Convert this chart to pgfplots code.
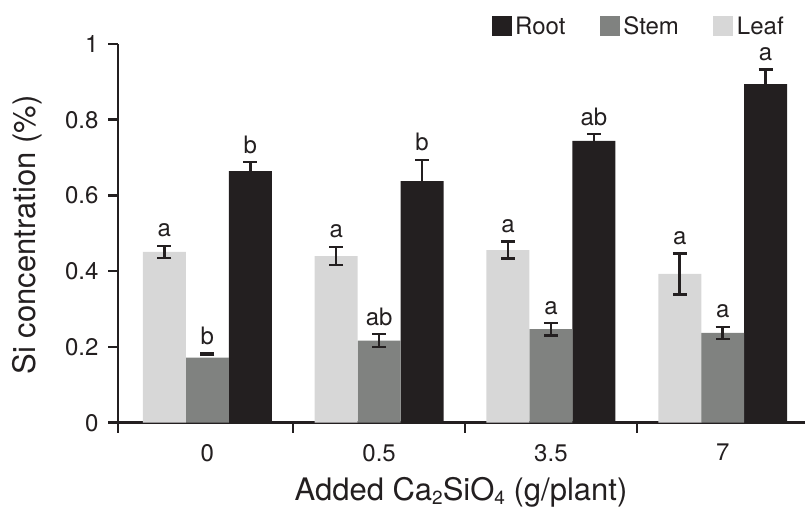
\documentclass[border=0pt]{standalone}
\usepackage{pgfplots}
\pgfplotsset{compat=1.18}
\usepackage{fontspec}
\setmainfont{TeX Gyre Heros}
\definecolor{rootc}{HTML}{231F20}
\definecolor{stemc}{HTML}{808280}
\definecolor{leafc}{HTML}{D7D7D7}
\definecolor{txt}{HTML}{231F20}
\newcommand{\sub}[1]{\raisebox{-4pt}{\fontsize{19}{19}\selectfont #1}}
\pgfplotsset{
  mylegend/.style={legend image code/.code={\path[##1] (0pt,-10pt) rectangle (20pt,10pt);}},
  myerr/.style={error bars/.cd, y explicit,
    error bar style={draw=txt, line width=2.6pt},
    error mark options={draw=txt, line width=2.6pt, mark size=7pt, rotate=90}},
}
\begin{document}
\begin{tikzpicture}
\path[use as bounding box] (0,0) rectangle (805pt,510pt);
\begin{axis}[
  at={(118pt,87.3pt)}, anchor=south west,
  scale only axis, width=687pt, height=378.7pt,
  xmin=-0.52, xmax=3.479, ymin=0, ymax=1,
  clip=false,
  axis x line*=bottom, axis y line*=left,
  axis line style={line width=2.5pt, draw=txt},
  tick style={line width=2.5pt, draw=txt},
  tick align=outside, major tick length=10pt,
  xtick={-0.52,0.5,1.5,2.5}, xticklabels={},
  extra x ticks={0,1,2,3}, extra x tick labels={0,0.5,3.5,7},
  extra x tick style={tick style={draw=none}, xticklabel style={yshift=-8pt}},
  ytick={0,0.2,0.4,0.6,0.8,1},
  yticklabels={0,0.2,0.4,0.6,0.8,1},
  tick label style={font=\fontsize{24}{26}\selectfont, text=txt},
  yticklabel style={xshift=-6pt},
  /pgf/number format/assume math mode=true,
  xlabel={Added Ca\sub{2}SiO\sub{4} (g/plant)},
  xlabel style={at={(axis description cs:0.4993,-0.205)}, anchor=base, font=\fontsize{31}{33}\selectfont, text=txt},
  ylabel={Si concentration (\%)},
  ylabel style={at={(axis description cs:-0.1325,0.496)}, anchor=center, font=\fontsize{31}{33}\selectfont, text=txt},
  legend style={draw=none, fill=none, at={(axis description cs:0.5437,1.082)}, anchor=north west,
    legend columns=3, font=\fontsize{24}{26}\selectfont, text=txt, inner sep=0pt,
    nodes={inner sep=3.5pt},
    /tikz/every even column/.append style={column sep=31pt}},
]
\addplot[ybar, bar width=43pt, bar shift=0pt, fill=rootc, draw=none, mylegend,
  myerr, y dir=plus] table[x=x, y=y, y error=e] {
x y e
0.25 0.664 0.024
1.25 0.638 0.056
2.25 0.744 0.018
3.25 0.894 0.039
};
\addlegendentry{Root}
\addplot[ybar, bar width=43pt, bar shift=0pt, fill=stemc, draw=none, mylegend] table[x=x, y=y] {
x y
0 0.172
1 0.217
2 0.247
3 0.237
};
\addlegendentry{Stem}
\addplot[ybar, bar width=43pt, bar shift=0pt, fill=leafc, draw=none, mylegend,
  myerr, y dir=both] table[x=x, y=y, y error=e] {
x y e
-0.25 0.451 0.016
0.75 0.440 0.024
1.75 0.456 0.023
2.75 0.393 0.054
};
\addlegendentry{Leaf}
% stem error bars
\addplot[forget plot, draw=none, mark=none, myerr, y dir=both] table[x=x, y=y, y error=e] {
x y e
0 0.1815 0.0026
1 0.217 0.017
2 0.247 0.016
3 0.237 0.016
};
% significance letters
\addplot[forget plot, draw=none, mark=none, nodes near coords, point meta=explicit symbolic,
  nodes near coords style={anchor=base, yshift=9pt, font=\fontsize{24}{26}\selectfont, text=txt}]
  table[x=x, y=y, meta=l] {
x y l
-0.25 0.467 a
0 0.184 b
0.25 0.688 b
0.75 0.464 a
1 0.234 ab
1.25 0.694 b
1.75 0.479 a
2 0.263 a
2.25 0.762 ab
2.75 0.447 a
3 0.253 a
3.25 0.933 a
};
\end{axis}
\end{tikzpicture}
\end{document}
